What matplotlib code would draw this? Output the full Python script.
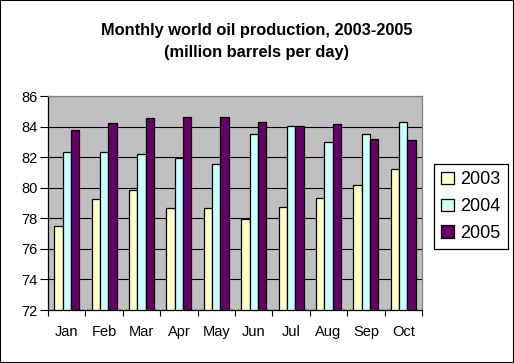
import matplotlib.pyplot as plt
import numpy as np
from matplotlib.patches import Rectangle

months = ['Jan', 'Feb', 'Mar', 'Apr', 'May', 'Jun', 'Jul', 'Aug', 'Sep', 'Oct']
prod_2003 = [77.5, 79.25, 79.85, 78.7, 78.7, 77.95, 78.75, 79.3, 80.15, 81.2]
prod_2004 = [82.35, 82.35, 82.2, 81.95, 81.55, 83.5, 84.05, 83.0, 83.5, 84.3]
prod_2005 = [83.8, 84.25, 84.55, 84.6, 84.6, 84.3, 84.05, 84.15, 83.2, 83.1]

plt.rcParams['font.family'] = ['Liberation Sans', 'DejaVu Sans']

fig = plt.figure(figsize=(5.14, 3.63), dpi=100)
ax = fig.add_axes([48 / 514, 1 - 310 / 363, 374 / 514, 214 / 363])

x = np.arange(len(months))
w = 1 / 4.5
series = [(prod_2003, '#FFFFCC', '2003'), (prod_2004, '#CCFFFF', '2004'), (prod_2005, '#660066', '2005')]
for i, (vals, col, lab) in enumerate(series):
    ax.bar(x + (i - 1) * w, np.array(vals) - 72, bottom=72, width=w, color=col,
           edgecolor='black', linewidth=0.9, label=lab, zorder=3)

ax.set_facecolor('#C0C0C0')
ax.set_xlim(-0.5, 9.5)
ax.set_ylim(72, 86)
ax.set_yticks(range(72, 87, 2))
ax.yaxis.grid(True, color='black', linewidth=0.8, zorder=1)
ax.set_axisbelow(True)

ax.set_xticks(x)
ax.set_xticklabels(months, fontsize=10.5)
ax.set_xticks(np.arange(-0.5, 10, 1), minor=True)
ax.tick_params(axis='x', which='major', length=0, pad=11)
ax.tick_params(axis='x', which='minor', length=4, width=0.8, direction='out')
ax.tick_params(axis='y', length=5.5, width=0.8, labelsize=10.5, pad=2)

for s in ['left', 'bottom']:
    ax.spines[s].set_color('black')
    ax.spines[s].set_linewidth(0.9)
for s in ['top', 'right']:
    ax.spines[s].set_color('#808080')
    ax.spines[s].set_linewidth(0.9)

fig.text(0.5, 1 - 30 / 363, 'Monthly world oil production, 2003-2005', ha='center', va='center',
         fontsize=11.8, fontweight='bold')
fig.text(0.5, 1 - 52 / 363, '(million barrels per day)', ha='center', va='center',
         fontsize=11.8, fontweight='bold')

leg = fig.legend(loc='upper left', bbox_to_anchor=(434 / 514, 1 - 164 / 363), fontsize=13,
                 frameon=True, fancybox=False, edgecolor='black', framealpha=1,
                 handlelength=0.7, handleheight=0.7, handletextpad=0.35,
                 borderpad=0.4, labelspacing=0.55, borderaxespad=0)
leg.get_frame().set_linewidth(0.9)

fig.patches.append(Rectangle((0, 0), 1, 1, transform=fig.transFigure, fill=False,
                             edgecolor='black', linewidth=1.5))

fig.savefig('out.png', dpi=100)
